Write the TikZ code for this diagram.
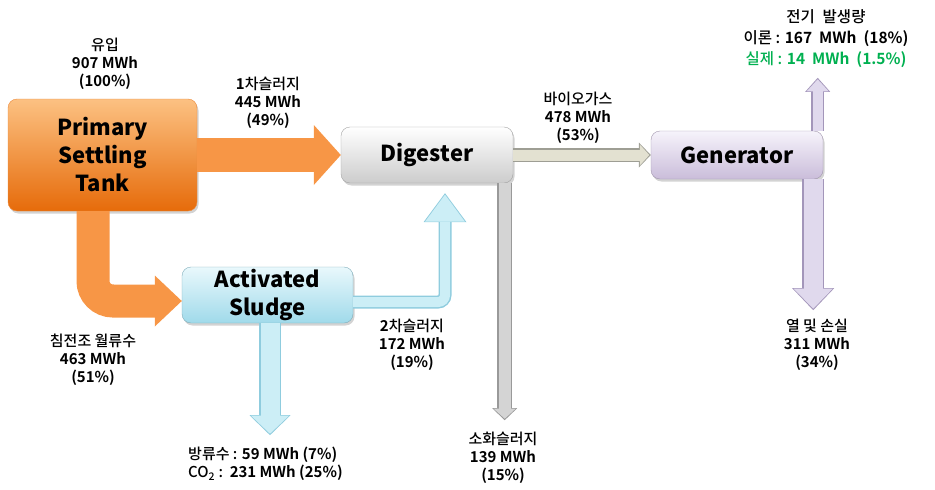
\documentclass[tikz,border=0pt]{standalone}
\usepackage{fontspec}
\setmainfont{Noto Sans CJK KR}
\newfontfamily\medkr{Noto Sans CJK KR}[UprightFont=* Medium,BoldFont=* Bold]
\usetikzlibrary{arrows.meta,calc,shadows}

\definecolor{orangeflow}{rgb}{0.969,0.588,0.275}
\definecolor{psttop}{rgb}{0.988,0.757,0.510}
\definecolor{pstbot}{rgb}{0.902,0.420,0.040}
\definecolor{digtop}{rgb}{1.000,1.000,1.000}
\definecolor{digbot}{rgb}{0.800,0.800,0.800}
\definecolor{gentop}{rgb}{0.965,0.953,0.984}
\definecolor{genbot}{rgb}{0.792,0.741,0.855}
\definecolor{acttop}{rgb}{0.914,0.973,0.988}
\definecolor{actbot}{rgb}{0.627,0.855,0.918}
\definecolor{biofill}{rgb}{0.890,0.882,0.820}
\definecolor{biorim}{rgb}{0.620,0.620,0.580}
\definecolor{dsfill}{rgb}{0.830,0.830,0.830}
\definecolor{dsrim}{rgb}{0.600,0.600,0.600}
\definecolor{cyanfill}{rgb}{0.800,0.933,0.965}
\definecolor{cyanrim}{rgb}{0.560,0.800,0.870}
\definecolor{lavfill}{rgb}{0.880,0.850,0.930}
\definecolor{lavrim}{rgb}{0.640,0.590,0.730}
\definecolor{elgreen}{rgb}{0.000,0.690,0.314}

\begin{document}
\begin{tikzpicture}[x=1pt,y=-1pt,
  box/.style={rectangle,rounded corners=9pt,minimum width=172pt,minimum height=56pt,
    inner sep=0pt,align=center,font=\fontsize{22}{28}\selectfont\bfseries,
    drop shadow={opacity=0.35,shadow xshift=1.5pt,shadow yshift=-2.5pt}},
  lbl/.style={inner sep=0pt,align=center,font=\fontsize{15}{18}\selectfont\medkr}]
\useasboundingbox (0,0) rectangle (935,490);

% boxes
\node[box,minimum width=189pt,minimum height=112pt,top color=psttop,bottom color=pstbot,draw=pstbot!80!white] (pst) at (102.5,155) {Primary\\Settling\\Tank};
\node[box,top color=digtop,bottom color=digbot,draw=digbot!80!black] (dig) at (427,155) {Digester};
\node[box,minimum height=48pt,top color=gentop,bottom color=genbot,draw=genbot!80!black] (gen) at (737,155) {Generator};
\node[box,minimum width=171pt,top color=acttop,bottom color=actbot,draw=actbot!80!black] (act) at (267.5,295) {Activated\\Sludge};

% free ends
\coordinate (dsend) at ($(dig.south east)+(-8.5,237)$);
\coordinate (ssend) at ($(dig.south)+(18,10)$);
\coordinate (efend) at ($(act.south)+(2.5,112)$);
\coordinate (elend) at ($(gen.north east)+(-5.5,-53)$);
\coordinate (hlend) at ($(gen.south east)+(-10,131)$);

% orange flows
\draw[orangeflow,line width=34pt,-{Triangle[length=27pt,width=60pt,line width=0pt]}] (pst.east) -- (dig.west);
\draw[orangeflow,line width=33pt,rounded corners=20pt,-{Triangle[length=27pt,width=51pt,line width=0pt]}] ($(pst.south)+(-9.5,0)$) |- ($(act.west)+(0,6)$);

% biogas
\draw[biorim,line width=14pt,-{Triangle[length=12pt,width=25pt,line width=0pt]}] (dig.east) -- (gen.west);
\draw[biofill,line width=11pt,shorten >=1.5pt,-{Triangle[length=9.5pt,width=21pt,line width=0pt]}] (dig.east) -- (gen.west);

% digested sludge
\draw[dsrim,line width=15pt,-{Triangle[length=12pt,width=25pt,line width=0pt]}] ($(dig.south east)+(-8.5,0)$) -- (dsend);
\draw[dsfill,line width=12pt,shorten >=1.5pt,-{Triangle[length=10pt,width=22pt,line width=0pt]}] ($(dig.south east)+(-8.5,0)$) -- (dsend);

% secondary sludge
\draw[cyanrim,line width=13pt,rounded corners=7pt,-{Triangle[length=29pt,width=43pt,line width=0pt]}] ($(act.east)+(0,7)$) -| (ssend);
\draw[cyanfill,line width=10pt,rounded corners=7pt,shorten >=1.5pt,-{Triangle[length=27pt,width=40pt,line width=0pt]}] ($(act.east)+(0,7)$) -| (ssend);

% effluent
\draw[cyanrim,line width=22pt,-{Triangle[length=20pt,width=41pt,line width=0pt]}] ($(act.south)+(2.5,0)$) -- (efend);
\draw[cyanfill,line width=19pt,shorten >=1.5pt,-{Triangle[length=18pt,width=38pt,line width=0pt]}] ($(act.south)+(2.5,0)$) -- (efend);

% electricity
\draw[lavrim,line width=13pt,-{Triangle[length=14pt,width=25pt,line width=0pt]}] ($(gen.north east)+(-5.5,0)$) -- (elend);
\draw[lavfill,line width=10pt,shorten >=1.5pt,-{Triangle[length=12pt,width=22pt,line width=0pt]}] ($(gen.north east)+(-5.5,0)$) -- (elend);

% heat and loss
\draw[lavrim,line width=22pt,-{Triangle[length=22pt,width=42pt,line width=0pt]}] ($(gen.south east)+(-10,0)$) -- (hlend);
\draw[lavfill,line width=19pt,shorten >=1.5pt,-{Triangle[length=20pt,width=39pt,line width=0pt]}] ($(gen.south east)+(-10,0)$) -- (hlend);

% labels
\node[lbl] (inlbl) at (105,64) {유입\\\textbf{907 MWh}\\\textbf{(100\%)}};
\node[lbl] (pslbl) at (268,103) {\textbf{1}차슬러지\\\textbf{445 MWh}\\\textbf{(49\%)}};
\node[lbl] (biolbl) at (578,118) {바이오가스\\\textbf{478 MWh}\\\textbf{(53\%)}};
\node[lbl] (ovlbl) at (93,360) {침전조 월류수\\\textbf{463 MWh}\\\textbf{(51\%)}};
\node[lbl] (sslbl) at (412,345) {\textbf{2}차슬러지\\\textbf{172 MWh}\\\textbf{(19\%)}};
\node[lbl,align=left,anchor=west] (eflbl) at (188,464) {방류수 : \textbf{59 MWh (7\%)}\\CO\textsubscript{2} :\ \ \textbf{231 MWh (25\%)}};
\node[lbl] (dslbl) at (503,458) {소화슬러지\\\textbf{139 MWh}\\\textbf{(15\%)}};
\node[lbl,font=\fontsize{15.5}{21}\selectfont\medkr] (ellbl) at (826,39) {전기\hspace{0.5em}발생량\\이론 : \textbf{167\hspace{0.45em}MWh\hspace{0.45em}(18\%)}\\\color{elgreen}실제 : \textbf{14\hspace{0.45em}MWh\hspace{0.45em}(1.5\%)}};
\node[lbl] (hllbl) at (817,345) {열 및 손실\\\textbf{311 MWh}\\\textbf{(34\%)}};
\end{tikzpicture}
\end{document}
